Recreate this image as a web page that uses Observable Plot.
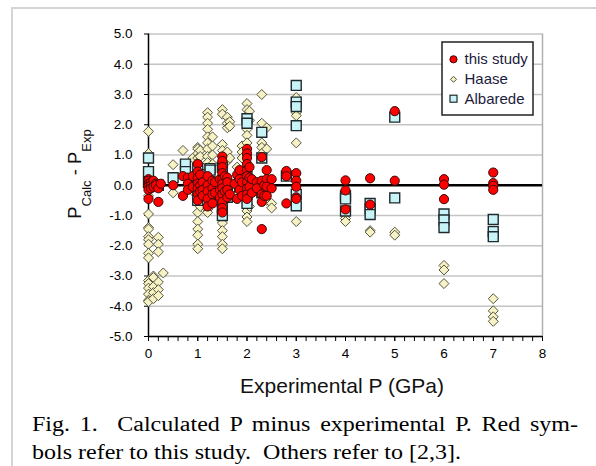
<!DOCTYPE html>
<html><head><meta charset="utf-8">
<script src="https://cdn.jsdelivr.net/npm/d3@7"></script>
<script src="https://cdn.jsdelivr.net/npm/@observablehq/plot@0.6"></script>
<style>
html,body{margin:0;padding:0;background:#fff;}
#wrap{position:relative;width:596px;height:466px;overflow:hidden;background:#fff;}
#border{position:absolute;left:11px;top:7px;width:700px;height:600px;border-top:2px solid #d4d4d4;border-left:2px solid #d4d4d4;}
#chart{position:absolute;left:0;top:0;}
.cap{position:absolute;left:32px;font-family:"Liberation Serif","Times New Roman",serif;font-size:20px;line-height:28px;color:#000;transform-origin:0 0;transform:scaleX(1.2);}
#cap1{top:410px;width:455px;text-align:justify;text-align-last:justify;}
#cap2{top:438px;white-space:nowrap;}
</style></head>
<body>
<div id="wrap">
  <div id="border"></div>
  <div id="chart"></div>
  <div class="cap" id="cap1">Fig. 1.&nbsp; Calculated P minus experimental P. Red sym-</div>
  <div class="cap" id="cap2">bols refer to this study.&nbsp; Others refer to [2,3].</div>
</div>
<script>
// ---- data: [experimental P (GPa), list of P_calc - P_exp values] ----
const seriesNames = ["this study", "Haase", "Albarede"];
const xTicks = [0, 1, 2, 3, 4, 5, 6, 7, 8];
const yTicks = [-5, -4, -3, -2, -1, 0, 1, 2, 3, 4, 5];

const haaseGroups = [
  [0, [1.78, 1.05, 0.05, -0.35, -0.95, -1.4, -1.45, -1.7, -1.8, -1.95, -2.25, -2.4, -3.15, -3.25, -3.4, -3.6, -3.8, -3.85]],
  [0.1, [-3.0, -3.05, -3.35, -3.55, -3.75]],
  [0.2, [-1.72, -1.95, -2.2, -3.2, -3.45, -3.65]],
  [0.3, [-2.9]],
  [0.5, [0.68, -0.25]],
  [0.7, [1.15]],
  [0.9, [0.9, -0.2]],
  [1.0, [1.25, 1.2, 1.05, 0.9, 0.75, -0.6, -0.9, -1.2, -1.45, -1.65, -1.95, -2.1]],
  [1.05, [1.15, 0.95, -0.7]],
  [1.2, [2.4, 2.25, 2.05, 1.85, 1.6, 1.4, 1.2, 0.95, 0.75, -0.8, -0.9]],
  [1.3, [1.6, 1.3, 1.0, 0.7, -0.6]],
  [1.5, [2.5, 2.35, 1.35, 1.15, 0.95, -0.95, -1.25, -1.5, -1.7, -1.95, -2.1]],
  [1.6, [2.25, 2.05, 1.9, 1.1, 0.8]],
  [1.65, [2.1, 1.95, 0.9]],
  [1.8, [0.6, -0.3]],
  [1.9, [1.3, 1.1, 0.9]],
  [2.0, [2.7, 2.5, 2.3, 2.05, 1.85, 1.65, 1.4, 1.2, 1.0, -0.6, -0.85, -1.05, -1.2]],
  [2.05, [2.45, 2.15, -0.7]],
  [2.3, [3.0, 2.05, 1.4, 1.25, 1.05]],
  [2.4, [1.9, 1.2, -0.5]],
  [2.5, [-0.6, -0.75]],
  [3.0, [2.9, 2.4, 2.3, 1.4, -1.2]],
  [4.0, [-1.1, -1.2]],
  [4.5, [-1.5, -1.55]],
  [5.0, [-1.55, -1.65]],
  [6.0, [-2.65, -2.8, -3.25]],
  [7.0, [-3.75, -4.15, -4.35, -4.5]]
];

const albaredeGroups = [
  [0, [0.9, 0.45, 0.1]],
  [0.2, [0.0]],
  [0.5, [0.25]],
  [0.75, [0.7, 0.45]],
  [0.95, [-0.05]],
  [1.0, [0.55, 0.1, -0.3, -0.5]],
  [1.15, [0.35, -0.1]],
  [1.25, [0.55, 0.5, -0.45]],
  [1.3, [0.1, -0.3]],
  [1.5, [0.6, -0.3, -0.55, -0.75, -1.0]],
  [1.6, [0.0, -0.4]],
  [1.85, [0.2, -0.05]],
  [2.0, [2.2, 2.05, 0.3, -0.3, -0.6]],
  [2.3, [1.75, 0.9, -0.25]],
  [2.8, [0.3]],
  [3.0, [3.3, 2.75, 2.6, 1.97, -0.3, -0.68]],
  [4.0, [-0.35, -0.45, -0.85]],
  [4.5, [-0.6, -0.78, -0.97]],
  [5.0, [2.25, -0.42]],
  [6.0, [-0.95, -1.15, -1.4]],
  [7.0, [-1.13, -1.53, -1.7]]
];

const studyGroups = [
  [0, [0.2, 0.15, 0.05, 0.0, -0.05, -0.15, -0.45]],
  [0.05, [0.1, 0.0, -0.1]],
  [0.1, [0.15, -0.05]],
  [0.15, [0.05, 0.0]],
  [0.2, [-0.1, -0.55]],
  [0.25, [0.05]],
  [0.5, [0.0]],
  [0.7, [0.3, -0.35]],
  [0.8, [0.25, 0.05, -0.15]],
  [0.9, [0.3, -0.05]],
  [1.0, [0.7, 0.45, 0.25, 0.05, -0.1, -0.3, -0.5]],
  [1.05, [0.35, 0.0, -0.2]],
  [1.1, [0.1, -0.15, -0.35]],
  [1.2, [0.3, 0.0, -0.2, -0.45, -0.7]],
  [1.3, [0.15, -0.1, -0.3, -0.6]],
  [1.35, [0.1, -0.25]],
  [1.45, [0.2, -0.15, -0.4]],
  [1.5, [0.95, 0.8, 0.6, 0.4, 0.2, 0.05, -0.1, -0.3, -0.55, -0.75, -0.9]],
  [1.55, [0.3, -0.2]],
  [1.6, [0.25, 0.1, -0.15, -0.4]],
  [1.65, [-0.3]],
  [1.75, [0.05]],
  [1.8, [0.35, -0.45]],
  [1.85, [0.5, 0.2, -0.15]],
  [1.9, [0.1, -0.35]],
  [2.0, [1.2, 1.05, 0.9, 0.7, 0.5, 0.3, 0.1, -0.1, -0.3, -0.45]],
  [2.05, [0.6, 0.25, -0.05]],
  [2.1, [0.2, -0.25]],
  [2.2, [0.1, -0.1]],
  [2.3, [0.93, 0.15, -0.3, -0.55, -1.45]],
  [2.35, [0.0, -0.35]],
  [2.4, [0.5, 0.2, -0.05, -0.35]],
  [2.5, [0.2, -0.1]],
  [2.8, [0.47, 0.3, -0.6]],
  [3.0, [0.4, 0.15, -0.05, -0.4, -0.45]],
  [4.0, [0.16, -0.17, -0.8]],
  [4.5, [0.23, -0.64]],
  [5.0, [2.45, 0.15]],
  [6.0, [0.2, 0.02, -0.46]],
  [7.0, [0.42, 0.07, -0.02, -0.15]]
];

const flat = g => g.flatMap(([p, ds]) => ds.map(d => ({p, d})));
const haase = flat(haaseGroups);
const albarede = flat(albaredeGroups);
const study = flat(studyGroups);
const minorTicks = d3.range(0, 40.5, 1).map(i => i * 0.2);

const plot = Plot.plot({
  width: 596,
  height: 400,
  marginLeft: 148,
  marginRight: 54,
  marginTop: 33.5,
  marginBottom: 64,
  x: {domain: [0, 8], label: null},
  y: {domain: [-5, 5], label: null},
  style: {fontFamily: "'Liberation Sans', Arial, sans-serif", fontSize: "13.5px", color: "#000", background: "transparent", overflow: "visible"},
  marks: [
    Plot.gridY(yTicks, {stroke: "#c4c4c4", strokeOpacity: 1, strokeWidth: 1.5}),
    Plot.ruleX([8], {stroke: "#b0b0b0", strokeWidth: 1.5}),
    Plot.ruleX([0], {stroke: "#000", strokeWidth: 1.5}),
    Plot.ruleY([-5], {stroke: "#000", strokeWidth: 1.5}),
    Plot.axisY(yTicks, {tickSize: 4, tickPadding: 12, tickFormat: d => d.toFixed(1), label: null}),
    Plot.axisX(xTicks, {tickSize: 5, tickPadding: 7, label: null}),
    Plot.axisX(minorTicks, {tickSize: 5, tickFormat: () => "", label: null}),
    Plot.ruleY([0], {stroke: "#000", strokeWidth: 2.5}),
    Plot.dot(haase, {x: "p", y: "d", symbol: "diamond2", r: 4.5, fill: "#f6f2c6", stroke: "#55553c", strokeWidth: 1}),
    Plot.dot(albarede, {x: "p", y: "d", symbol: "square", r: 5.6, fill: "#c8f4f8", stroke: "#1e2a2e", strokeWidth: 1.4}),
    Plot.dot(study, {x: "p", y: "d", symbol: "circle", r: 4.6, fill: "#ff0000", stroke: "#3a0a0a", strokeWidth: 1})
  ]
});
document.getElementById("chart").appendChild(plot);

const svg = d3.select(plot);
// y-axis title with subscripts
const yt = svg.append("text")
  .attr("transform", "translate(80.5,174) rotate(-90)")
  .attr("text-anchor", "middle")
  .attr("font-family", "'Liberation Sans', Arial, sans-serif")
  .attr("font-size", 18.5)
  .attr("fill", "#111");
yt.append("tspan").text("P");
yt.append("tspan").attr("font-size", 13).attr("dy", 10).text("Calc");
yt.append("tspan").attr("dy", -10).text(" - P");
yt.append("tspan").attr("font-size", 13).attr("dy", 10).text("Exp");

// x-axis title
svg.append("text")
  .attr("x", 342).attr("y", 393)
  .attr("text-anchor", "middle")
  .attr("font-family", "'Liberation Sans', Arial, sans-serif")
  .attr("font-size", 21)
  .attr("fill", "#111")
  .text("Experimental P (GPa)");

// legend
const lg = svg.append("g").attr("text-anchor", "start");
lg.append("rect").attr("x", 442).attr("y", 42).attr("width", 91).attr("height", 73)
  .attr("fill", "#fff").attr("stroke", "#222").attr("stroke-width", 1.5);
const rows = [59.3, 79.3, 98.7];
lg.append("circle").attr("cx", 453.5).attr("cy", rows[0]).attr("r", 3.6)
  .attr("fill", "#ff0000").attr("stroke", "#3a0a0a");
lg.append("path").attr("d", `M453.5,${rows[1]-3}L456.5,${rows[1]}L453.5,${rows[1]+3}L450.5,${rows[1]}Z`)
  .attr("fill", "#f6f2c6").attr("stroke", "#55553c");
lg.append("rect").attr("x", 450).attr("y", rows[2]-3.5).attr("width", 7).attr("height", 7)
  .attr("fill", "#c8f4f8").attr("stroke", "#1e2a2e").attr("stroke-width", 1.2);
seriesNames.forEach((n, i) => {
  lg.append("text").attr("x", 464.5).attr("y", rows[i] + 5)
    .attr("text-anchor", "start")
    .attr("font-family", "'Liberation Sans', Arial, sans-serif")
    .attr("font-size", 15).attr("fill", "#1c1c3c").text(n);
});
</script>
</body></html>
